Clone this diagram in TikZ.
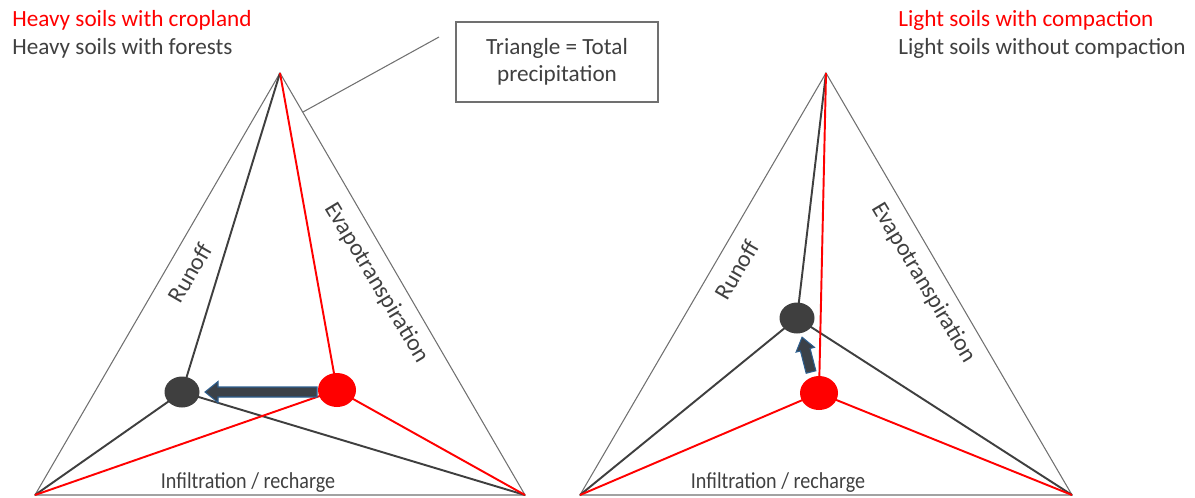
\documentclass[tikz,border=0pt]{standalone}
\usepackage{fontspec}
\setmainfont{Carlito}
\usetikzlibrary{shapes.geometric}
\definecolor{txt}{HTML}{404040}
\definecolor{outl}{HTML}{707070}
\definecolor{dk}{HTML}{3F3F3F}
\definecolor{arrfill}{HTML}{3B4148}
\definecolor{arredge}{HTML}{2E5F8F}
\definecolor{myred}{HTML}{FF0000}
\newlength{\pxu}
\setlength{\pxu}{0.02cm}
\tikzset{
  outer/.style={draw=outl, line width=0.6pt},
  blk/.style={draw=dk, line width=1.1pt},
  rd/.style={draw=myred, line width=1.1pt},
  bdot/.style={ellipse, fill=dk, draw=none, minimum width=35\pxu, minimum height=31\pxu, inner sep=0pt},
  rdot/.style={ellipse, fill=myred, draw=none, minimum width=38\pxu, minimum height=34\pxu, inner sep=0pt},
  lbl/.style={text=txt, font=\fontsize{13.5}{16}\selectfont, inner sep=0pt},
  bottomlbl/.style={text=txt, font=\fontsize{13}{15}\selectfont, inner sep=0pt, anchor=base},
  title/.style={font=\fontsize{13.2}{16}\selectfont, inner sep=0pt, anchor=base west},
  fatarr/.style={fill=arrfill, draw=arredge, line width=0.6pt, line join=miter}
}
\begin{document}
\begin{tikzpicture}[x=0.02cm, y=-0.02cm]
\useasboundingbox (0,0) rectangle (1195,497);
% titles
\node[title, text=myred] (t1) at (12,26) {Heavy soils with cropland};
\node[title, text=txt] (t2) at (12,54) {Heavy soils with forests};
\node[title, text=myred] (t3) at (898,26) {Light soils with compaction};
\node[title, text=txt] (t4) at (898,54) {Light soils without compaction};
% callout box
\node[draw=outl, line width=0.8pt, minimum width=202\pxu, minimum height=80\pxu, align=center, lbl, font=\fontsize{13.2}{15.5}\selectfont] (box) at (557,62) {Triangle = Total\\precipitation};
\coordinate (cl1) at (303,112);
\coordinate (cl2) at (439,37);
\draw[draw=outl, line width=0.6pt] (cl1) -- (cl2);
% ---------------- left triangle
\coordinate (LA) at (280,73);
\coordinate (LB) at (35,495);
\coordinate (LC) at (525,495);
\coordinate (Lb) at (182,392);
\coordinate (Lr) at (337,390);
\draw[outer] (LA) -- (LB) -- (LC) -- cycle;
\draw[blk] (LA) -- (Lb);
\draw[blk] (LB) -- (Lb);
\draw[blk] (Lb) -- (LC);
\draw[rd] (LA) -- (Lr);
\draw[rd] (LB) -- (Lr);
\draw[rd] (Lr) -- (LC);
\node[bdot] (Lbd) at (Lb) {};
\node[rdot] (Lrd) at (Lr) {};
\begin{scope}[shift={(317,392)}, rotate=180]
\draw[fatarr] (0,-5) -- (99,-5) -- (99,-10.5) -- (112,0) -- (99,10.5) -- (99,5) -- (0,5) -- cycle;
\end{scope}
\node[lbl, rotate=60] (Lrun) at (190,273) {Runoff};
\node[lbl, rotate=-59] (Lev) at (377,283) {Evapotranspiration};
\node[bottomlbl] (Linf) at (248,488) {\scalebox{0.88}[1]{Infiltration / recharge}};
% ---------------- right triangle
\coordinate (RA) at (826,73);
\coordinate (RB) at (580,495);
\coordinate (RC) at (1072,495);
\coordinate (Rb) at (797,318);
\coordinate (Rr) at (819,393);
\draw[outer] (RA) -- (RB) -- (RC) -- cycle;
\draw[blk] (RA) -- (Rb);
\draw[blk] (RB) -- (Rb);
\draw[blk] (Rb) -- (RC);
\draw[rd] (RA) -- (Rr);
\draw[rd] (RB) -- (Rr);
\draw[rd] (Rr) -- (RC);
\node[bdot] (Rbd) at (Rb) {};
\node[rdot] (Rrd) at (Rr) {};
\begin{scope}[shift={(811,372)}, rotate=104.4]
\draw[fatarr] (0,-5) -- (23,-5) -- (23,-9.5) -- (36,0) -- (23,9.5) -- (23,5) -- (0,5) -- cycle;
\end{scope}
\node[lbl, rotate=60] (Rrun) at (737,270) {Runoff};
\node[lbl, rotate=-59] (Rev) at (924,283) {Evapotranspiration};
\node[bottomlbl] (Rinf) at (778,488) {\scalebox{0.88}[1]{Infiltration / recharge}};
\end{tikzpicture}
\end{document}
